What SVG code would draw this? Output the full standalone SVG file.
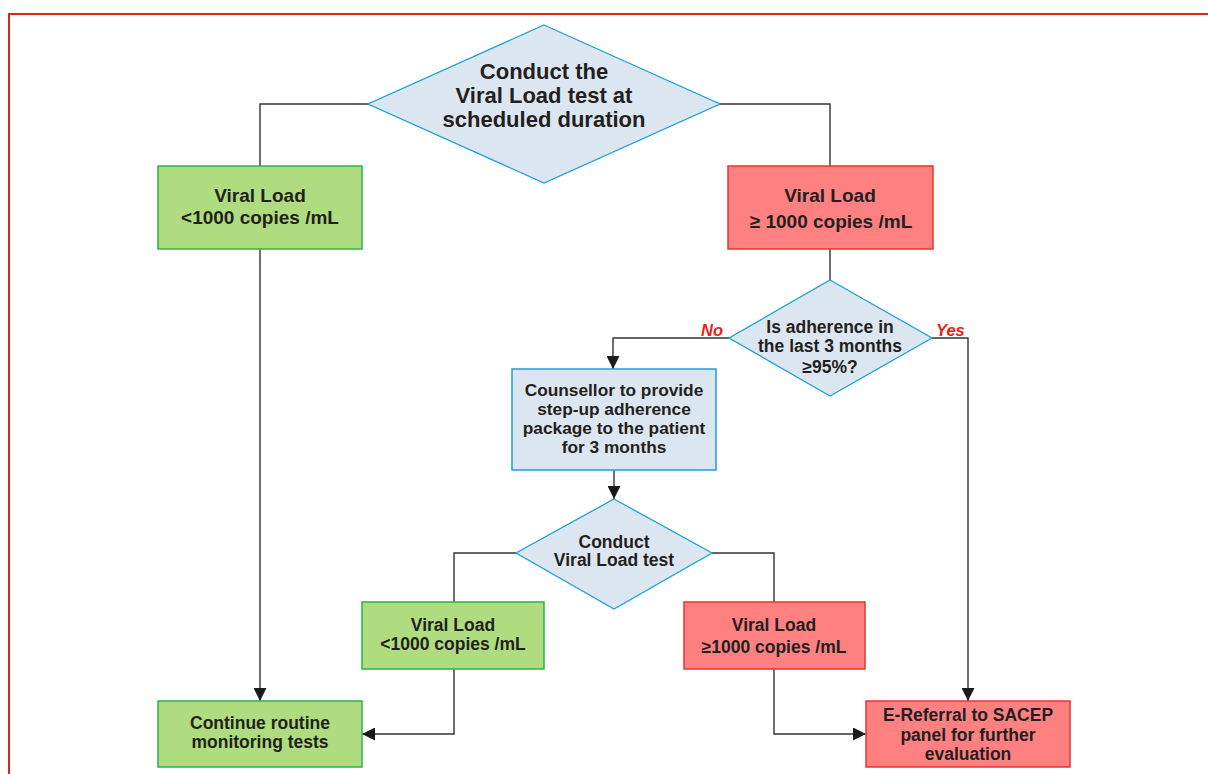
<svg xmlns="http://www.w3.org/2000/svg" width="1208" height="774" viewBox="0 0 1208 774">
<style>
.t{font-family:"Liberation Sans",Arial,sans-serif;font-weight:bold;fill:#231f20;text-anchor:middle}
.dia{fill:#dce6f1;stroke:#1ba1d8;stroke-width:1.3}
.box-b{fill:#dce6f1;stroke:#1ba1d8;stroke-width:1.5}
.box-g{fill:#afdc7e;stroke:#2db34a;stroke-width:1.5}
.box-r{fill:#ff8080;stroke:#e2372c;stroke-width:1.5}
.ln{fill:none;stroke:#333;stroke-width:1.4}
.lbl{font-family:"Liberation Sans",Arial,sans-serif;font-weight:bold;font-style:italic;fill:#e0261b;font-size:16.5px}
</style>
<defs>
<marker id="ah" viewBox="0 0 12 12" refX="12" refY="6" markerWidth="13" markerHeight="13" markerUnits="userSpaceOnUse" orient="auto">
<path d="M0,0 L12,6 L0,12 z" fill="#1a1a1a"/>
</marker>
</defs>
<rect x="9" y="14" width="1220" height="780" fill="#fff" stroke="#e0261b" stroke-width="2"/>

<g id="connectors">
<path class="ln" d="M368,104 H260 V166"/>
<path class="ln" d="M720,104 H830 V166"/>
<path class="ln" d="M260,249 V701" marker-end="url(#ah)"/>
<path class="ln" d="M830,249 V280"/>
<path class="ln" d="M729,338 H613 V369" marker-end="url(#ah)"/>
<path class="ln" d="M932,338 H968 V701" marker-end="url(#ah)"/>
<path class="ln" d="M614,470 V499" marker-end="url(#ah)"/>
<path class="ln" d="M516,553 H454 V602"/>
<path class="ln" d="M712,553 H774 V602"/>
<path class="ln" d="M454,669 V734 H362" marker-end="url(#ah)"/>
<path class="ln" d="M774,669 V734 H866" marker-end="url(#ah)"/>
</g>

<g id="n-start">
<polygon class="dia" points="544,25 720,104 544,183 368,104"/>
<text class="t" font-size="22px" x="544" y="79">Conduct the</text>
<text class="t" font-size="22px" x="544" y="103">Viral Load test at</text>
<text class="t" font-size="22px" x="544" y="127">scheduled duration</text>
</g>

<g id="n-low1">
<rect class="box-g" x="158" y="166" width="204" height="83"/>
<text class="t" font-size="19px" x="260" y="202">Viral Load</text>
<text class="t" font-size="19px" x="260" y="224">&lt;1000 copies /mL</text>
</g>

<g id="n-high1">
<rect class="box-r" x="728" y="166" width="205" height="83"/>
<text class="t" font-size="19px" x="830" y="202">Viral Load</text>
<text class="t" font-size="19px" x="831" y="228">≥ 1000 copies /mL</text>
</g>

<g id="n-adherence">
<polygon class="dia" points="830,280 932,338 830,396 729,338"/>
<text class="t" font-size="17.5px" x="830" y="333">Is adherence in</text>
<text class="t" font-size="17.5px" x="830" y="352">the last 3 months</text>
<text class="t" font-size="17.5px" x="830" y="373">≥95%?</text>
</g>
<text class="lbl" x="701" y="336">No</text>
<text class="lbl" x="936" y="336">Yes</text>

<g id="n-counsellor">
<rect class="box-b" x="512" y="369" width="204" height="101"/>
<text class="t" font-size="17.3px" x="614" y="396">Counsellor to provide</text>
<text class="t" font-size="17.3px" x="614" y="415">step-up adherence</text>
<text class="t" font-size="17.3px" x="614" y="434">package to the patient</text>
<text class="t" font-size="17.3px" x="614" y="453">for 3 months</text>
</g>

<g id="n-test2">
<polygon class="dia" points="614,499 712,553 614,609 516,553"/>
<text class="t" font-size="17.5px" x="614" y="548">Conduct</text>
<text class="t" font-size="17.5px" x="614" y="566">Viral Load test</text>
</g>

<g id="n-low2">
<rect class="box-g" x="362" y="602" width="182" height="67"/>
<text class="t" font-size="17.5px" x="453" y="631">Viral Load</text>
<text class="t" font-size="17.5px" x="453" y="650">&lt;1000 copies /mL</text>
</g>

<g id="n-high2">
<rect class="box-r" x="684" y="602" width="181" height="67"/>
<text class="t" font-size="17.5px" x="774" y="631">Viral Load</text>
<text class="t" font-size="17.5px" x="774" y="653">≥1000 copies /mL</text>
</g>

<g id="n-continue">
<rect class="box-g" x="158" y="701" width="204" height="66"/>
<text class="t" font-size="17.5px" x="260" y="729">Continue routine</text>
<text class="t" font-size="17.5px" x="260" y="748">monitoring tests</text>
</g>

<g id="n-referral">
<rect class="box-r" x="866" y="701" width="204" height="66"/>
<text class="t" font-size="17.5px" x="968" y="721">E-Referral to SACEP</text>
<text class="t" font-size="17.5px" x="968" y="741">panel for further</text>
<text class="t" font-size="17.5px" x="968" y="760">evaluation</text>
</g>
</svg>
